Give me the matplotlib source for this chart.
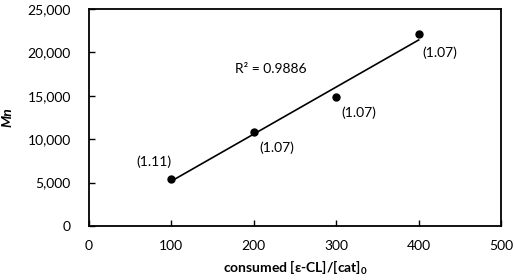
import numpy as np
import matplotlib.pyplot as plt

# data
ratio = [100, 200, 300, 400]
mn = [5400, 10800, 14900, 22100]
pdi_labels = ['(1.11)', '(1.07)', '(1.07)', '(1.07)']
# label anchor positions (data coords, left / center)
label_x = [58, 207, 306, 405]
label_y = [7400, 9000, 13100, 20000]
r2_text = 'R² = 0.9886'

plt.rcParams['font.family'] = ['Lato', 'DejaVu Sans']
plt.rcParams['mathtext.fontset'] = 'custom'
plt.rcParams['mathtext.rm'] = 'Lato'
plt.rcParams['mathtext.bf'] = 'Lato:bold'
plt.rcParams['mathtext.it'] = 'Lato:italic'

fig = plt.figure(figsize=(5.14, 2.8), dpi=100)
ax = fig.add_axes([0.173, 0.193, 0.802, 0.775])

# linear trendline
slope, icpt = np.polyfit(ratio, mn, 1)
xs = np.array([ratio[0], ratio[-1]])
ax.plot(xs, slope * xs + icpt, color='black', lw=1.2, zorder=2)
ax.plot(ratio, mn, 'o', color='black', ms=5, zorder=3)

for lx, ly, t in zip(label_x, label_y, pdi_labels):
    ax.text(lx, ly, t, fontsize=10, ha='left', va='center')
ax.text(177, 18100, r2_text, fontsize=10, ha='left', va='center')

ax.set_xlim(0, 500)
ax.set_ylim(0, 25000)
ax.set_xticks(range(0, 501, 100))
ax.set_yticks(range(0, 25001, 5000))
ax.set_yticklabels([f'{v:,}' for v in range(0, 25001, 5000)])
ax.tick_params(direction='in', length=4, width=1, labelsize=10, colors='black')
ax.tick_params(axis='y', pad=13)
ax.tick_params(axis='x', pad=10)
for s in ax.spines.values():
    s.set_linewidth(1.3)
    s.set_color('black')

ax.set_xlabel('consumed [ε-CL]/[cat]$_\\mathbf{0}$', fontsize=10, fontweight='bold', labelpad=5)
ax.set_ylabel('Mn', fontsize=10, fontweight='bold', fontstyle='italic', labelpad=10)

fig.savefig('out.png', dpi=100)
